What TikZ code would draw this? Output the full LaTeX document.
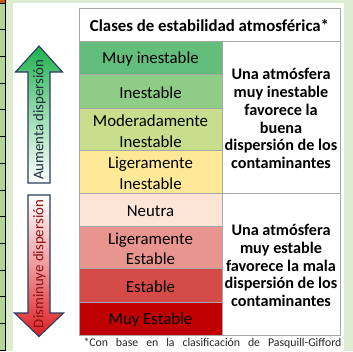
\documentclass[tikz,border=0pt]{standalone}
\usepackage{fontspec}
\setmainfont{Carlito}
\definecolor{bglight}{HTML}{DDEBD2}
\definecolor{leftgreen}{HTML}{B2D69A}
\definecolor{cellorange}{HTML}{C65911}
\definecolor{gridgray}{HTML}{A6A6A6}
\definecolor{cA}{HTML}{63BE7B}
\definecolor{cB}{HTML}{8FCC86}
\definecolor{cC}{HTML}{C8DE8C}
\definecolor{cD}{HTML}{FEE999}
\definecolor{cE}{HTML}{FCE4D6}
\definecolor{cF}{HTML}{E8958F}
\definecolor{cG}{HTML}{D54B47}
\definecolor{cH}{HTML}{C00000}
\definecolor{arrowedge}{HTML}{2A3C5E}
\definecolor{upgreen}{HTML}{1EB04C}
\definecolor{downred}{HTML}{DC1E22}
\definecolor{uptext}{HTML}{1F2F3F}
\definecolor{downtext}{HTML}{8A1212}
\begin{document}
\begin{tikzpicture}[x=1pt,y=-1pt,
  cellbox/.style={draw=gridgray, line width=0.6pt, inner sep=0pt, outer sep=0pt,
    anchor=north west},
  leftcell/.style={cellbox, minimum width=143pt},
  notecell/.style={cellbox, minimum width=118pt, fill=white},
  celltext/.style={inner sep=0pt, align=center, text=black,
    font=\fontsize{16.8}{20.5}\selectfont},
  notetext/.style={celltext, font=\bfseries\fontsize{16.2}{17.9}\selectfont},
  arrowshape/.style={draw=arrowedge, line width=1.1pt, line join=miter},
  arrowlabel/.style={rotate=90, font=\fontsize{14.8}{17}\selectfont, inner sep=0pt},
]
\useasboundingbox (0,0) rectangle (353,351);
% spreadsheet background
\fill[bglight] (0,0) rectangle (353,351);
\fill[white] (13,3) rectangle (344,351);
\fill[leftgreen] (0,3) rectangle (5,351);
\fill[cellorange] (0,0) rectangle (5,3);
\foreach \k in {0,...,13}{
  \draw[black, line width=0.8pt] (0,3+26.7*\k) -- (5,3+26.7*\k);
}
\draw[black, line width=0.8pt] (5,0) -- (5,351);

% header
\node[cellbox, minimum width=261pt, minimum height=33pt, fill=white] (head) at (79,8) {};
\node[celltext, font=\bfseries\fontsize{16.8}{18}\selectfont] (headtext)
  at ([yshift=-1.5pt]head.center) {Clases de estabilidad atmosférica*};

% stability classes (cells)
\node[leftcell, fill=cA, minimum height=33pt] (r1) at (79,41) {};
\node[leftcell, fill=cB, minimum height=34pt] (r2) at (79,74) {};
\node[leftcell, fill=cC, minimum height=42pt] (r3) at (79,108) {};
\node[leftcell, fill=cD, minimum height=43pt] (r4) at (79,150) {};
\node[leftcell, fill=cE, minimum height=33pt] (r5) at (79,193) {};
\node[leftcell, fill=cF, minimum height=42pt] (r6) at (79,226) {};
\node[leftcell, fill=cG, minimum height=34pt] (r7) at (79,268) {};
\node[leftcell, fill=cH, minimum height=33pt] (r8) at (79,302) {};
% stability classes (labels)
\node[celltext] (t1) at ([yshift=-2pt]r1.center) {Muy inestable};
\node[celltext] (t2) at ([yshift=-2pt]r2.center) {Inestable};
\node[celltext] (t3) at ([yshift=-2pt]r3.center) {Moderadamente\\Inestable};
\node[celltext] (t4) at ([yshift=-2pt]r4.center) {Ligeramente\\Inestable};
\node[celltext] (t5) at ([yshift=-2pt]r5.center) {Neutra};
\node[celltext] (t6) at ([yshift=-2pt]r6.center) {Ligeramente\\Estable};
\node[celltext] (t7) at ([yshift=-2pt]r7.center) {Estable};
\node[celltext] (t8) at ([yshift=-2pt]r8.center) {Muy Estable};

% descriptions
\node[notecell, minimum height=152pt] (n1) at (222,41) {};
\node[notecell, minimum height=142pt] (n2) at (222,193) {};
\node[notetext] (d1) at ([yshift=-1.5pt]n1.center)
  {Una atmósfera\\muy inestable\\favorece la\\buena\\dispersión de los\\contaminantes};
\node[notetext] (d2) at ([yshift=-1.5pt]n2.center)
  {Una atmósfera\\muy estable\\favorece la mala\\dispersión de los\\contaminantes};

% footnote
\node[font=\fontsize{11.8}{13}\selectfont, text=black!85, inner sep=0pt] (note) at (212.5,343.5)
  {\makebox[258pt][s]{*Con base en la clasificación de Pasquill-Gifford}};

% up arrow
\draw[arrowshape, top color=upgreen, bottom color=white, middle color=upgreen!45]
  (28,183) -- (28,72) -- (15.5,72) -- (39,46) -- (62.5,72) -- (50,72) -- (50,183) -- cycle;
\node[arrowlabel, text=uptext] (uplab) at (39.5,119.5) {Aumenta dispersión};

% down arrow
\draw[arrowshape, top color=white, bottom color=downred, middle color=downred!45]
  (28,195) -- (50,195) -- (50,313) -- (63.5,313) -- (39,336.5) -- (14.5,313) -- (28,313) -- cycle;
\node[arrowlabel, text=downtext] (downlab) at (39.5,264) {Disminuye dispersión};
\end{tikzpicture}
\end{document}
